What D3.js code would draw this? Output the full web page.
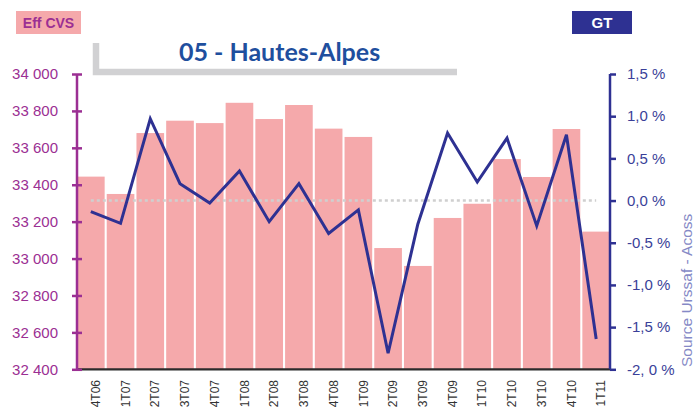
<!DOCTYPE html>
<html>
<head>
<meta charset="utf-8">
<script src="https://cdn.jsdelivr.net/npm/d3@7"></script>
<style>
  body { margin: 0; background: #fff; }
  svg { display: block; font-family: "Liberation Sans", Arial, sans-serif; }
</style>
</head>
<body>
<svg id="chart" width="694" height="408"></svg>
<script>
// trimestres
const quarters = ["4T06","1T07","2T07","3T07","4T07","1T08","2T08","3T08","4T08","1T09",
                  "2T09","3T09","4T09","1T10","2T10","3T10","4T10","1T11"];
// effectifs CVS (barres, axe gauche)
const effectifs = [33444, 33350, 33680, 33747, 33734, 33844, 33756, 33832, 33704, 33659,
                   33057, 32960, 33220, 33297, 33539, 33442, 33702, 33146];
// glissement trimestriel en % (courbe, axe droit)
const evolution = [-0.13, -0.27, 0.97, 0.20, -0.03, 0.35, -0.25, 0.20, -0.39, -0.11,
                   -1.81, -0.28, 0.80, 0.22, 0.74, -0.30, 0.78, -1.64];
const leftTicks = [32400, 32600, 32800, 33000, 33200, 33400, 33600, 33800, 34000];
const rightTicks = [-2, -1.5, -1, -0.5, 0, 0.5, 1, 1.5];
const rightLabels = ["-2, 0 %", "-1,5 %", "-1,0 %", "-0,5 %", "0,0 %", "0,5 %", "1,0 %", "1,5 %"];

const svg = d3.select("#chart");
const plotL = 77, plotR = 610, plotT = 74, plotB = 369.3;

const x = d3.scaleBand().domain(quarters).range([plotL, plotR]).paddingInner(0.07).paddingOuter(0);
const yL = d3.scaleLinear().domain([32400, 34000]).range([plotB, plotT]);
const yR = d3.scaleLinear().domain([-2, 1.5]).range([plotB, plotT]);
const cx = d => x(d) + x.bandwidth() / 2;

// barres
svg.append("g").selectAll("rect")
  .data(quarters)
  .join("rect")
  .attr("x", d => x(d))
  .attr("width", x.bandwidth())
  .attr("y", (d, i) => yL(effectifs[i]))
  .attr("height", (d, i) => plotB - yL(effectifs[i]))
  .attr("fill", "#f5a9ab");

// ligne du zéro
svg.append("line")
  .attr("x1", cx(quarters[0])).attr("x2", cx(quarters[quarters.length - 1]))
  .attr("y1", yR(0)).attr("y2", yR(0))
  .attr("stroke", "#cfcfcf").attr("stroke-width", 2.5)
  .attr("stroke-dasharray", "3,3");

// courbe
const line = d3.line().x(d => cx(d[0])).y(d => yR(d[1]));
svg.append("path")
  .datum(quarters.map((q, i) => [q, evolution[i]]))
  .attr("d", line)
  .attr("fill", "none")
  .attr("stroke", "#2e3192")
  .attr("stroke-width", 3)
  .attr("stroke-linejoin", "miter");

// axe des x
svg.append("line")
  .attr("x1", plotL).attr("x2", plotR)
  .attr("y1", plotB).attr("y2", plotB)
  .attr("stroke", "#2b2b2b").attr("stroke-width", 2.2);

svg.append("g").selectAll("text")
  .data(quarters)
  .join("text")
  .attr("transform", d => `translate(${cx(d) + 5},380) rotate(-90)`)
  .attr("dy", "0.35em")
  .attr("text-anchor", "end")
  .attr("font-size", 12)
  .attr("fill", "#333")
  .text(d => d);

// axe gauche
const purple = "#9b2f93";
const gL = svg.append("g")
  .attr("transform", `translate(${plotL},0)`)
  .call(d3.axisLeft(yL).tickValues(leftTicks).tickSize(5).tickPadding(14)
    .tickFormat(d => d3.format(",")(d).replace(",", " ")));
gL.select(".domain").attr("stroke", purple).attr("stroke-width", 2.5).attr("d", `M0,${plotT}V${plotB}`);
gL.selectAll(".tick line").attr("stroke", purple).attr("stroke-width", 2.5).attr("x1", 5).attr("x2", -5);
gL.selectAll(".tick text").attr("fill", purple).attr("font-size", 15)
  .attr("font-family", "Liberation Sans, Arial, sans-serif");

// axe droit
const navy = "#2e3192";
const gR = svg.append("g")
  .attr("transform", `translate(${plotR},0)`)
  .call(d3.axisRight(yR).tickValues(rightTicks).tickSize(6).tickPadding(11)
    .tickFormat((d, i) => rightLabels[i]));
gR.select(".domain").attr("stroke", navy).attr("stroke-width", 2.5).attr("d", `M0,${plotT}V${plotB}`);
gR.selectAll(".tick line").attr("stroke", navy).attr("stroke-width", 2.5);
gR.selectAll(".tick text").attr("fill", "#3a3f99").attr("font-size", 15)
  .attr("font-family", "Liberation Sans, Arial, sans-serif");

// source
svg.append("text")
  .attr("transform", "translate(692,367) rotate(-90)")
  .attr("font-size", 15.5)
  .attr("fill", "#8589c6")
  .text("Source Urssaf - Acoss");

// cadre gris du titre
svg.append("path")
  .attr("d", "M96,43V72H457")
  .attr("fill", "none")
  .attr("stroke", "#d1d1d3")
  .attr("stroke-width", 6.5);

svg.append("text")
  .attr("x", 179).attr("y", 60.5)
  .attr("font-family", "Lato, 'Open Sans', sans-serif")
  .attr("font-weight", "bold")
  .attr("font-size", 25)
  .attr("fill", "#1f4f9e")
  .text("05 - Hautes-Alpes");

// étiquettes
svg.append("rect").attr("x", 16).attr("y", 11).attr("width", 65).attr("height", 23).attr("fill", "#f5a9ab");
svg.append("text").attr("x", 48.5).attr("y", 27.5).attr("text-anchor", "middle")
  .attr("font-size", 14).attr("font-weight", "bold").attr("fill", purple).text("Eff CVS");

svg.append("rect").attr("x", 572).attr("y", 11).attr("width", 60).attr("height", 23).attr("fill", navy);
svg.append("text").attr("x", 602).attr("y", 28).attr("text-anchor", "middle")
  .attr("font-size", 15).attr("font-weight", "bold").attr("fill", "#fff").text("GT");
</script>
</body>
</html>
